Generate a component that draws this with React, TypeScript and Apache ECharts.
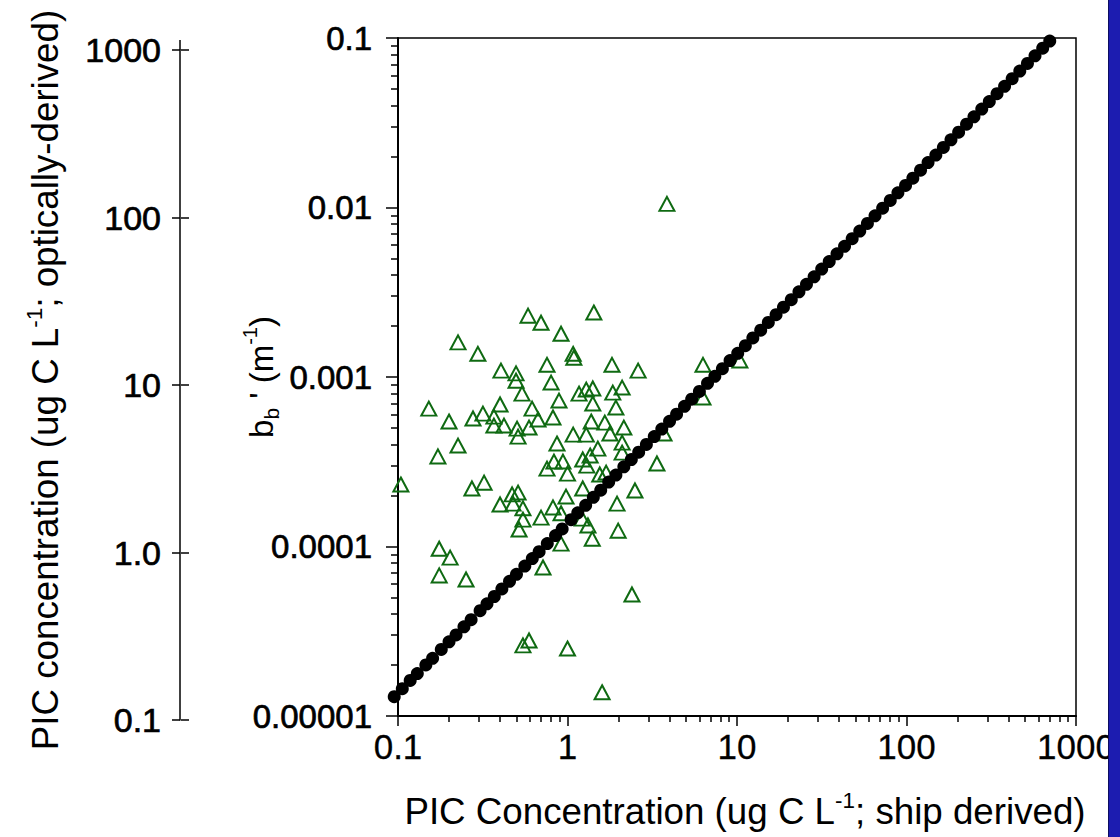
import React, { useEffect, useRef } from 'react';
import * as echarts from 'echarts';

// Green triangles: PIC ship-derived (x) vs bb' (y)
const triX = [
  3.86, 1.43, 0.585, 0.698, 0.916, 0.226, 0.296, 1.08, 1.09, 0.757,
  0.405, 0.497, 0.497, 1.83, 2.61, 6.30, 10.4, 0.80, 0.539, 0.891,
  0.400, 0.152, 0.618, 1.17, 1.29, 1.41, 1.85, 2.10, 6.30, 1.41,
  1.93, 0.317, 0.368, 0.277, 0.200, 0.670, 0.821, 0.368, 0.422, 0.504,
  0.593, 1.38, 1.66, 2.15, 3.71, 1.08, 1.29, 1.78, 0.511, 0.226,
  0.867, 2.10, 0.172, 1.51, 1.36, 1.23, 2.10, 0.757, 0.832, 0.94,
  1.0, 1.30, 3.37, 1.55, 1.69, 0.104, 0.273, 0.322, 1.23, 2.50,
  0.400, 0.471, 0.511, 0.477, 0.546, 0.546, 0.518, 0.698, 0.821, 0.916,
  0.98, 1.96, 1.22, 1.32, 1.99, 1.40, 0.175, 0.203, 0.175, 0.252,
  0.916, 0.717, 2.40, 0.546, 0.593, 1.0, 1.60,
];
const triY = [
  0.0105, 0.00240, 0.00230, 0.00209, 0.00180, 0.00160, 0.00137, 0.00137, 0.00130, 0.00118,
  0.00109, 0.00105, 0.00095, 0.00118, 0.00109, 0.00118, 0.00125, 0.000927, 0.000798, 0.000726,
  0.000688, 0.000651, 0.000651, 0.000798, 0.000843, 0.000855, 0.000809, 0.000866, 0.000756, 0.000697,
  0.000660, 0.000608, 0.000584, 0.000569, 0.000546, 0.000561, 0.000577, 0.000517, 0.000517, 0.000496,
  0.000503, 0.000546, 0.000538, 0.000503, 0.000464, 0.000457, 0.000457, 0.000464, 0.000445, 0.000394,
  0.000405, 0.000410, 0.000340, 0.000378, 0.000344, 0.000326, 0.000358, 0.000288, 0.000317, 0.000317,
  0.000269, 0.000300, 0.000309, 0.000266, 0.000273, 0.000232, 0.000220, 0.000238, 0.000220, 0.000214,
  0.000177, 0.000203, 0.000208, 0.000179, 0.000168, 0.000144, 0.000126, 0.000148, 0.000170, 0.000157,
  0.000197, 0.000179, 0.000146, 0.000133, 0.000124, 0.000111, 0.000097, 0.000086, 0.0000675, 0.0000639,
  0.000104, 0.0000752, 0.0000521, 0.0000261, 0.0000279, 0.0000250, 0.0000138,
];

// Black dots along the conversion line
const dotX = [
  0.095, 0.106, 0.118, 0.13, 0.146, 0.16, 0.18, 0.2, 0.22, 0.245,
  0.27, 0.305, 0.335, 0.37, 0.41, 0.455, 0.5, 0.56, 0.62, 0.68,
  0.76, 0.85, 0.93, 1.05, 1.15, 1.28, 1.42, 1.57, 1.75, 1.93,
  2.15, 2.38, 2.63, 2.92, 3.25, 3.6, 4.0, 4.4, 4.9, 5.4,
  6.0, 6.7, 7.4, 8.2, 9.1, 10.1, 11.2, 12.4, 13.8, 15.3,
  17, 18.8, 20.9, 23.2, 25.7, 28.5, 31.6, 35, 38.9, 43.1,
  47.8, 53, 58.8, 65.2, 72.3, 80.2, 89, 98.7, 109, 121,
  134, 149, 165, 183, 203, 226, 250, 278, 308, 342,
  379, 420, 466, 517, 573, 636, 700,
];
const dotY = [
  1.30e-5, 1.45e-5, 1.62e-5, 1.78e-5, 2.0e-5, 2.19e-5, 2.47e-5, 2.74e-5, 3.01e-5, 3.36e-5,
  3.70e-5, 4.18e-5, 4.59e-5, 5.07e-5, 5.62e-5, 6.23e-5, 6.85e-5, 7.67e-5, 8.49e-5, 9.32e-5,
  1.04e-4, 1.16e-4, 1.27e-4, 1.44e-4, 1.58e-4, 1.75e-4, 1.95e-4, 2.15e-4, 2.40e-4, 2.64e-4,
  2.95e-4, 3.26e-4, 3.60e-4, 4.0e-4, 4.45e-4, 4.93e-4, 5.48e-4, 6.03e-4, 6.71e-4, 7.40e-4,
  8.22e-4, 9.18e-4, 1.01e-3, 1.12e-3, 1.25e-3, 1.38e-3, 1.53e-3, 1.70e-3, 1.89e-3, 2.10e-3,
  2.33e-3, 2.58e-3, 2.86e-3, 3.18e-3, 3.52e-3, 3.90e-3, 4.33e-3, 4.80e-3, 5.33e-3, 5.90e-3,
  6.55e-3, 7.26e-3, 8.06e-3, 8.93e-3, 9.91e-3, 1.10e-2, 1.22e-2, 1.35e-2, 1.49e-2, 1.66e-2,
  1.84e-2, 2.04e-2, 2.26e-2, 2.51e-2, 2.78e-2, 3.10e-2, 3.43e-2, 3.81e-2, 4.22e-2, 4.69e-2,
  5.19e-2, 5.75e-2, 6.38e-2, 7.08e-2, 7.85e-2, 8.71e-2, 9.59e-2,
];

const xTickValues = [0.1, 1, 10, 100, 1000];
const xTickLabels = ['0.1', '1', '10', '100', '1000'];
const bbTickValues = [0.00001, 0.0001, 0.001, 0.01, 0.1];
const bbTickLabels = ['0.00001', '0.0001', '0.001', '0.01', '0.1'];
const picTickValues = [0.1, 1, 10, 100, 1000];
const picTickLabels = ['0.1', '1.0', '10', '100', '1000'];

const xMinorTicks = [
  0.2, 0.3, 0.4, 0.5, 0.6, 0.7, 0.8, 0.9,
  2, 3, 4, 5, 6, 7, 8, 9,
  20, 30, 40, 50, 60, 70, 80, 90,
  200, 300, 400, 500, 600, 700, 800, 900,
];
const yMinorTicks = [
  0.00002, 0.00003, 0.00004, 0.00005, 0.00006, 0.00007, 0.00008, 0.00009,
  0.0002, 0.0003, 0.0004, 0.0005, 0.0006, 0.0007, 0.0008, 0.0009,
  0.002, 0.003, 0.004, 0.005, 0.006, 0.007, 0.008, 0.009,
  0.02, 0.03, 0.04, 0.05, 0.06, 0.07, 0.08, 0.09,
];

const SANS = "'Liberation Sans', Arial, Helvetica, sans-serif";

function lookup(values: number[], labels: string[]) {
  return (v: number) => {
    for (let i = 0; i < values.length; i++) {
      if (Math.abs(v - values[i]) / values[i] < 1e-6) return labels[i];
    }
    return '';
  };
}

export default function App() {
  const ref = useRef<HTMLDivElement>(null);
  useEffect(() => {
    const chart = echarts.init(ref.current!, null, { renderer: 'svg' });
    const tickLine = { color: '#000', width: 1.5 };
    const option: any = {
      animation: false,
      backgroundColor: '#ffffff',
      grid: [
        {
          left: 398, top: 38, width: 678, height: 678,
          show: true, borderColor: '#000', borderWidth: 1.5, backgroundColor: 'transparent',
        },
        { left: 180, top: 50, width: 1, height: 670 },
      ],
      xAxis: [
        {
          type: 'log', logBase: 10, gridIndex: 0, position: 'bottom', min: 0.1, max: 1000,
          axisLine: { show: true, lineStyle: { color: '#000', width: 2 } },
          axisTick: { show: true, inside: false, length: 10, lineStyle: tickLine },
          axisLabel: {
            formatter: lookup(xTickValues, xTickLabels), margin: 13,
            fontSize: 35, color: '#000', fontFamily: SANS,
            textBorderColor: '#000', textBorderWidth: 0.3,
          },
          splitLine: { show: false },
        },
        {
          type: 'log', logBase: 10, gridIndex: 0, position: 'bottom', min: 0.1, max: 1000,
          axisLine: { show: false },
          axisTick: { show: true, inside: false, length: 6, lineStyle: tickLine, customValues: xMinorTicks },
          axisLabel: { show: false },
          splitLine: { show: false },
        },
        { type: 'log', logBase: 10, gridIndex: 1, min: 0.1, max: 1000, show: false },
      ],
      yAxis: [
        {
          type: 'log', logBase: 10, gridIndex: 0, position: 'left', min: 0.00001, max: 0.1,
          axisLine: { show: true, lineStyle: { color: '#000', width: 2 } },
          axisTick: { show: true, inside: false, length: 12, lineStyle: tickLine },
          axisLabel: {
            formatter: lookup(bbTickValues, bbTickLabels), margin: 26,
            fontSize: 33, color: '#000', fontFamily: SANS,
            textBorderColor: '#000', textBorderWidth: 0.7,
          },
          splitLine: { show: false },
        },
        {
          type: 'log', logBase: 10, gridIndex: 0, position: 'left', min: 0.00001, max: 0.1,
          axisLine: { show: false },
          axisTick: { show: true, inside: false, length: 7, lineStyle: tickLine, customValues: yMinorTicks },
          axisLabel: { show: false },
          splitLine: { show: false },
        },
        {
          type: 'log', logBase: 10, gridIndex: 1, position: 'left', min: 0.1, max: 1000,
          axisLine: { show: true, lineStyle: { color: '#000', width: 1.5 } },
          axisTick: { show: true, inside: false, length: 8, lineStyle: tickLine },
          axisLabel: {
            formatter: lookup(picTickValues, picTickLabels), margin: 19,
            fontSize: 34, color: '#000', fontFamily: SANS,
            textBorderColor: '#000', textBorderWidth: 0.7,
          },
          splitLine: { show: false },
        },
        {
          type: 'log', logBase: 10, gridIndex: 1, position: 'right', min: 0.1, max: 1000,
          axisLine: { show: false },
          axisTick: { show: true, inside: false, length: 8, lineStyle: tickLine },
          axisLabel: { show: false },
          splitLine: { show: false },
        },
      ],
      series: [
        {
          type: 'scatter', xAxisIndex: 0, yAxisIndex: 0, clip: false,
          data: triX.map((x, i) => [x, triY[i]]),
          symbol: 'triangle', symbolSize: [15, 14],
          itemStyle: { color: 'rgba(0,0,0,0)', borderColor: '#0f6a12', borderWidth: 2, opacity: 1 },
          emphasis: { disabled: true },
        },
        {
          type: 'scatter', xAxisIndex: 0, yAxisIndex: 0, clip: false,
          data: dotX.map((x, i) => [x, dotY[i]]),
          symbol: 'circle', symbolSize: 13,
          itemStyle: { color: '#000', opacity: 1 },
          emphasis: { disabled: true },
        },
      ],
      graphic: [
        {
          type: 'line', z: 10,
          shape: { x1: 180, y1: 40, x2: 180, y2: 50 },
          style: { stroke: '#000', lineWidth: 1.5 },
        },
        {
          type: 'text', x: 46, y: 380, rotation: Math.PI / 2, scaleX: 1.02,
          style: {
            text: '{a|PIC concentration (ug C L}{s|-1}{a|; optically-derived)}',
            align: 'center', verticalAlign: 'middle', fill: '#000',
            rich: {
              a: { fontSize: 36, fontFamily: SANS, fill: '#000', lineHeight: 44 },
              s: { fontSize: 22, fontFamily: SANS, fill: '#000', verticalAlign: 'top', lineHeight: 22 },
            },
          },
        },
        {
          type: 'text', x: 261, y: 377, rotation: Math.PI / 2,
          style: {
            text: "{a|b}{b|b}{a| ' (m}{s|-1}{a|)}",
            align: 'center', verticalAlign: 'middle', fill: '#000',
            rich: {
              a: { fontSize: 33, fontFamily: SANS, fill: '#000', lineHeight: 42 },
              b: { fontSize: 21, fontFamily: SANS, fill: '#000', verticalAlign: 'bottom', lineHeight: 21 },
              s: { fontSize: 20, fontFamily: SANS, fill: '#000', verticalAlign: 'top', lineHeight: 20 },
            },
          },
        },
        {
          type: 'text', x: 745, y: 812, scaleX: 1.02,
          style: {
            text: '{a|PIC Concentration (ug C L}{s|-1}{a|; ship derived)}',
            align: 'center', verticalAlign: 'middle', fill: '#000',
            rich: {
              a: { fontSize: 36, fontFamily: SANS, fill: '#000', lineHeight: 44 },
              s: { fontSize: 22, fontFamily: SANS, fill: '#000', verticalAlign: 'top', lineHeight: 22 },
            },
          },
        },
        {
          type: 'rect', z: 100,
          shape: { x: 1108, y: 0, width: 12, height: 837 },
          style: { fill: '#1c1cb0' },
        },
        {
          type: 'line', z: 101,
          shape: { x1: 1108.5, y1: 0, x2: 1108.5, y2: 837 },
          style: { stroke: '#0c0c60', lineWidth: 1 },
        },
      ],
    };
    chart.setOption(option);
    return () => chart.dispose();
  }, []);
  return (
    <div
      ref={ref}
      style={{ position: 'absolute', left: 0, top: 0, width: 1120, height: 837 }}
    />
  );
}
